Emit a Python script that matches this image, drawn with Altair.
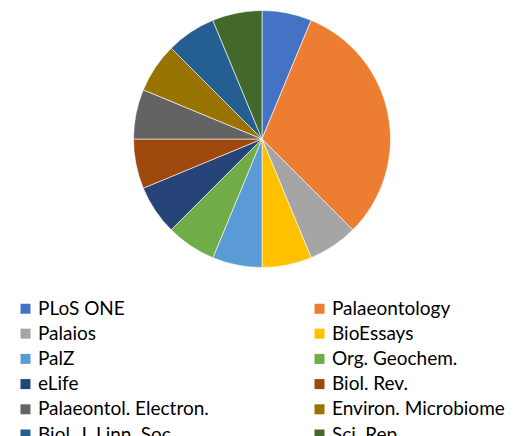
import altair as alt
import pandas as pd

journals = ["PLoS ONE", "Palaeontology", "Palaios", "BioEssays", "PalZ",
            "Org. Geochem.", "eLife", "Biol. Rev.", "Palaeontol. Electron.",
            "Environ. Microbiome", "Biol. J. Linn. Soc.", "Sci. Rep."]
counts = [1, 5, 1, 1, 1, 1, 1, 1, 1, 1, 1, 1]
colors = ["#4472C4", "#ED7D31", "#A5A5A5", "#FFC000", "#5B9BD5", "#70AD47",
          "#264478", "#9E480E", "#636363", "#997300", "#255E91", "#43682B"]

df = pd.DataFrame({"journal": journals, "count": counts, "idx": list(range(len(journals)))})

chart = alt.Chart(df).mark_arc(outerRadius=128.5, stroke="white", strokeWidth=0.6).encode(
    theta=alt.Theta("count:Q", stack=True),
    order=alt.Order("idx:Q"),
    x=alt.value(254),
    y=alt.value(131),
    color=alt.Color("journal:N", sort=journals,
                    scale=alt.Scale(domain=journals, range=colors),
                    legend=alt.Legend(title=None, orient="none", legendX=8, legendY=291,
                                      direction="horizontal",
                                      columns=2, columnPadding=101, rowPadding=5.2,
                                      symbolType="square", symbolSize=100,
                                      symbolStrokeWidth=0, labelOffset=3,
                                      labelFont="Lato", labelFontSize=19,
                                      labelColor="#000000", labelLimit=300,
                                      padding=0)),
).properties(width=506, height=428, autosize="none", padding=0).configure_view(stroke=None)

chart.save("out.html", embed_options={"renderer": "svg", "actions": False})
